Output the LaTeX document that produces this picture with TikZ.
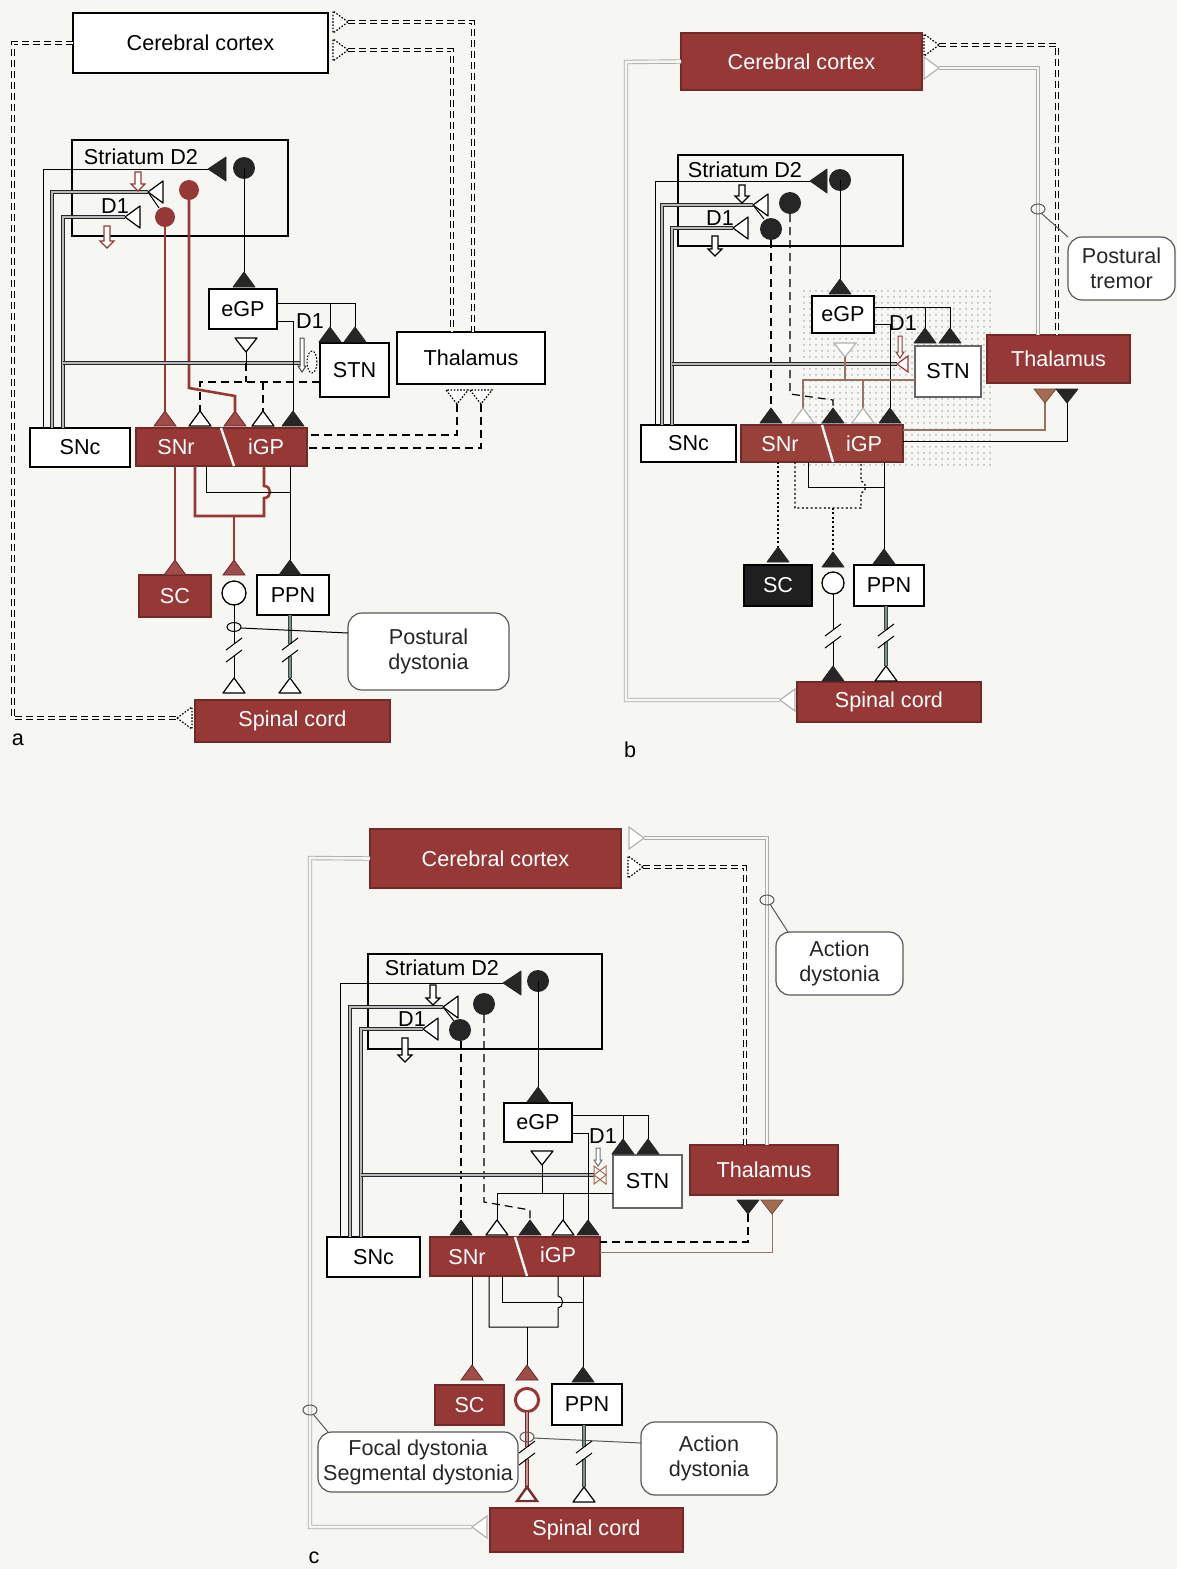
\documentclass[tikz,border=0pt]{standalone}
\usepackage{fontspec}
\setmainfont{Liberation Sans}
\usetikzlibrary{patterns}
\definecolor{brick}{RGB}{150,56,54}
\definecolor{brn}{RGB}{165,108,82}
\definecolor{bg}{RGB}{246,246,243}
\definecolor{tealc}{RGB}{120,150,140}
\newcommand\labfont{\fontsize{10.8}{12.6}\selectfont}
\newcommand\bx[7]{\node[#6, minimum width={(#4-#2)*0.5pt}, minimum height={(#5-#3)*0.5pt}] (#1) at ({(#2+#4)/2},{(#3+#5)/2}) {#7};}
\newcommand\synU[3]{\draw[#1] (#2,#3) -- ++(-11,15) -- ++(22,0) -- cycle;}
\newcommand\synD[3]{\draw[#1] (#2,#3) -- ++(-11,-14) -- ++(22,0) -- cycle;}
\newcommand\synL[3]{\draw[#1] (#2,#3) -- ++(15,-11) -- ++(0,22) -- cycle;}
\newcommand\synR[3]{\draw[#1] (#2,#3) -- ++(-15,-11) -- ++(0,22) -- cycle;}
\newcommand\barr[4]{\draw[#4, fill=white, line width=0.6pt, line join=miter] (#1-3,#2) -- (#1+3,#2) -- (#1+3,#3-7) -- (#1+7,#3-7) -- (#1,#3) -- (#1-7,#3-7) -- (#1-3,#3-7) -- cycle;}
\newcommand\narr[4]{\draw[#4, fill=white, line width=0.5pt] (#1-2,#2) -- (#1+2,#2) -- (#1+2,#3-6) -- (#1+4,#3-6) -- (#1,#3) -- (#1-4,#3-6) -- (#1-2,#3-6) -- cycle;}
\newcommand\brk[2]{\draw[tln] (#1-8,#2) -- (#1+8,#2-12) (#1-8,#2+12) -- (#1+8,#2);}
\tikzset{
 pbox/.style={draw=black, line width=1.1pt, fill=white, inner sep=0pt, outer sep=0pt},
 rbox/.style={draw=brick!75!black, line width=0.6pt, fill=brick, text=white, inner sep=0pt, outer sep=0pt},
 kbox/.style={draw=black, line width=0.6pt, fill=black!88, text=white, inner sep=0pt, outer sep=0pt},
 cbox/.style={draw=black!65, line width=0.6pt, rounded corners=7pt, fill=white, align=center, inner sep=0pt, outer sep=0pt, text=black!85},
 ln/.style={draw=black, line width=0.65pt},
 tln/.style={draw=black, line width=0.5pt},
 dln/.style={draw=black, line width=0.6pt, dash pattern=on 4pt off 2.5pt},
 dotln/.style={draw=black, line width=0.6pt, dash pattern=on 1pt off 1.2pt},
 rln/.style={draw=brick, line width=1.3pt},
 dbl/.style={draw=black!85, line width=0.55pt, double=gray!55, double distance=0.9pt},
 cdash/.style={draw=black, line width=0.5pt, double=bg, double distance=1.4pt, dash pattern=on 3.5pt off 2pt},
 gdbl/.style={draw=gray!65, line width=0.45pt, double=bg, double distance=1.3pt},
 tdbl/.style={draw=black!75, line width=0.45pt, double=tealc, double distance=0.8pt},
 rdbl/.style={draw=brick!75!black, line width=0.6pt, double=brick!55, double distance=0.8pt},
 brl/.style={draw=brn!65!gray, line width=0.55pt},
 fsyn/.style={fill=black!85, draw=black!85, line width=0.4pt, line join=round},
 osyn/.style={fill=white, draw=black, line width=0.6pt, line join=round},
 rsyn/.style={fill=brick!90, draw=brick!70!black, line width=0.4pt},
 dsyn/.style={fill=white, draw=black, line width=0.6pt, dash pattern=on 0.8pt off 0.8pt},
 gsyn/.style={fill=white, draw=gray!60, line width=0.6pt},
 bsyn/.style={fill=brn, draw=brn!70!black, line width=0.4pt},
}
\begin{document}
\begin{tikzpicture}[x=0.5pt, y=-0.5pt, every node/.style={font=\labfont}]
\useasboundingbox (0,0) rectangle (1177,1569);
\fill[bg] (0,0) rectangle (1177,1569);

%%%%%%%%%%%%%%%%%%%%%%%%%%%%%% PANEL A
\bx{ctxA}{73}{13}{328}{73}{pbox}{Cerebral cortex}
\bx{strA}{72}{140}{288}{236}{pbox,fill=none}{}
\node (strAl) at (141,157) {Striatum D2};
\node (d1A) at (115,206) {D1};
\bx{egpA}{209}{289}{277}{329}{pbox}{eGP}
\bx{stnA}{320}{343}{389}{397}{pbox}{STN}
\bx{thA}{397}{332}{545}{384}{pbox}{Thalamus}
\bx{sncA}{30}{428}{130}{467}{pbox}{SNc}
\bx{snrA}{136}{428}{307}{466}{rbox}{}
\draw[bg, line width=1.2pt] (221,428) -- (234,466);
\node[text=white] (snrAl) at (176,447) {SNr};
\node[text=white] (igpAl) at (266,447) {iGP};
\bx{scA}{139}{575}{211}{617}{rbox}{SC}
\bx{ppnA}{257}{575}{329}{615}{pbox}{PPN}
\bx{spA}{195}{700}{390}{742}{rbox}{Spinal cord}
\bx{calA}{348}{613}{509}{690}{cbox}{Postural\\dystonia}
\node (labA) at (18,740) {a};

\draw[cdash] (ctxA.west) -- (13,43) -- (13,718) -- (177,718);
\synL{dsyn}{177}{718}
\draw[cdash] (348,22) -- (473,22) -- (473,332);
\synR{dsyn}{348}{22}
\draw[cdash] (348,50) -- (452,50) -- (452,332);
\synR{dsyn}{348}{50}
\draw[dln] (457,404) -- (457,435) -- (307,435);
\draw[dln] (481,404) -- (481,448) -- (307,448);
\synD{dsyn}{457}{404}
\synD{dsyn}{481}{404}

\draw[tln] (43,428) -- (43,169) -- (208,169);
\draw[fsyn] (208,169) -- ++(18,-12) -- ++(0,24) -- cycle;
\fill[black!85] (244,168) circle[radius=5.5pt];
\draw[tln] (244,168) -- (244,272);
\synU{fsyn}{244}{272}
\draw[dbl] (52,428) -- (52,192) -- (148,192);
\synL{osyn}{148}{192}
\draw[tln] (148,192) -- (159,208);
\draw[dbl] (63,428) -- (63,217) -- (125,217);
\synL{osyn}{125}{217}
\fill[brick] (165,217) circle[radius=5pt];
\fill[brick] (189,190) circle[radius=5pt];
\barr{138}{172}{191}{brick}
\barr{107}{226}{248}{brick}
\draw[rln] (165,222) -- (165,411);
\synU{rsyn}{165}{411}
\draw[rln] (189,195) -- (189,388) -- (235,396) -- (235,411);
\synU{rsyn}{235}{411}
\draw[dbl] (63,363) -- (300,363);
\narr{302}{338}{372}{black!70}
\draw[black, line width=0.5pt, dash pattern=on 0.8pt off 0.8pt] (312,362) ellipse[x radius=2.5pt, y radius=5.5pt];
\node (d1As) at (310,321) {D1};
\draw[tln] (277,303) -- (355,303) (330,303) -- (330,327) (355,303) -- (355,327);
\synU{fsyn}{330}{327}
\synU{fsyn}{355}{327}
\draw[tln] (277,321) -- (293,321) -- (293,411);
\synU{fsyn}{293}{411}
\synD{osyn}{246}{352}
\draw[tln] (246,352) -- (246,363);
\draw[dln] (320,382) -- (200,382) -- (200,411);
\draw[dln] (263,382) -- (263,411);
\draw[dln] (246,363) -- (246,382);
\synU{osyn}{200}{411}
\synU{osyn}{263}{411}

\draw[rln] (175,466) -- (175,560);
\synU{rsyn}{175}{560}
\draw[rln] (195,466) -- (195,516) -- (264,516) -- (264,498) .. controls (272,498) and (272,486) .. (264,486) -- (264,466);
\draw[rln] (234,516) -- (234,560);
\synU{rsyn}{234}{560}
\draw[tln] (206,466) -- (206,492) -- (290,492);
\draw[tln] (290,466) -- (290,560);
\synU{fsyn}{290}{560}
\draw[ln, fill=white] (234,593) circle[radius=6pt];
\draw[tln] (234,605) -- (234,644) (234,656) -- (234,678);
\brk{234}{650}
\synU{osyn}{234}{678}
\draw[tdbl] (290,615) -- (290,644) (290,656) -- (290,678);
\brk{290}{650}
\synU{osyn}{290}{678}
\draw[tln] (234,627) ellipse[x radius=3.5pt, y radius=2.2pt];
\draw[tln] (241,628) -- (348,633);

%%%%%%%%%%%%%%%%%%%%%%%%%%%%%% PANEL B
\fill[pattern=dots, pattern color=gray!55] (800,290) rectangle (995,466);
\bx{ctxB}{681}{33}{922}{90}{rbox}{Cerebral cortex}
\bx{strB}{678}{155}{903}{246}{pbox,fill=none}{}
\node (strBl) at (745,170) {Striatum D2};
\node (d1B) at (720,218) {D1};
\bx{egpB}{812}{296}{874}{333}{pbox}{eGP}
\bx{stnB}{915}{346}{981}{397}{pbox,draw=black!60,line width=0.7pt}{STN}
\bx{thB}{987}{335}{1130}{383}{rbox}{Thalamus}
\bx{sncB}{641}{425}{736}{462}{pbox}{SNc}
\bx{snrB}{741}{425}{903}{462}{rbox,fill=brick!85!brn}{}
\draw[bg, line width=1.2pt] (822,425) -- (833,462);
\node[text=white] (snrBl) at (780,444) {SNr};
\node[text=white] (igpBl) at (864,444) {iGP};
\bx{scB}{744}{565}{812}{606}{kbox}{SC}
\bx{ppnB}{854}{565}{924}{606}{pbox}{PPN}
\bx{spB}{797}{682}{981}{722}{rbox}{Spinal cord}
\bx{calB}{1068}{237}{1175}{300}{cbox}{Postural\\tremor}
\node (labB) at (630,750) {b};

\draw[gdbl] (ctxB.west) -- (626,62) -- (626,700) -- (780,700);
\synL{gsyn}{780}{700}
\draw[cdash] (939,45) -- (1057,45) -- (1057,335);
\synR{dsyn}{939}{45}
\draw[gdbl] (939,68) -- (1038,68) -- (1038,335);
\synR{gsyn}{939}{68}
\draw[black!65, line width=0.5pt] (1038,209) ellipse[x radius=3.5pt, y radius=2.5pt];
\draw[black!65, line width=0.5pt] (1041,213) -- (calB.north west);

\draw[tln] (655,425) -- (655,181) -- (810,181);
\draw[fsyn] (810,181) -- ++(17,-12) -- ++(0,24) -- cycle;
\fill[black!85] (840,180) circle[radius=5.5pt];
\draw[tln] (840,180) -- (840,279);
\synU{fsyn}{840}{279}
\draw[dbl] (662,425) -- (662,205) -- (753,205);
\synL{osyn}{753}{205}
\draw[tln] (753,205) -- (764,219);
\draw[dbl] (672,425) -- (672,228) -- (733,228);
\synL{osyn}{733}{228}
\fill[black!85] (771,229) circle[radius=5.5pt];
\fill[black!85] (790,203) circle[radius=5.5pt];
\barr{742}{185}{203}{black}
\barr{715}{236}{256}{black}
\draw[dln] (771,240) -- (771,408);
\synU{fsyn}{771}{408}
\draw[dln] (790,214) -- (790,394) -- (833,400) -- (833,408);
\synU{fsyn}{833}{408}
\draw[dbl] (672,364) -- (897,364);
\draw[brick, fill=white, line width=0.6pt] (897,364) -- ++(11,-8) -- ++(0,16) -- cycle;
\narr{900}{336}{358}{brick}
\node (d1Bs) at (903,323) {D1};
\draw[tln] (874,307) -- (950,307) (925,307) -- (925,328) (950,307) -- (950,328);
\synU{fsyn}{925}{328}
\synU{fsyn}{950}{328}
\draw[tln] (874,324) -- (890,324) -- (890,408);
\synU{fsyn}{890}{408}
\synD{gsyn}{845}{357}
\draw[brl] (915,380) -- (803,380) -- (803,408);
\draw[brl] (863,380) -- (863,408);
\draw[brl] (845,380) -- (845,357);
\synU{gsyn}{803}{408}
\synU{gsyn}{863}{408}
\draw[brl, line width=0.6pt] (1045,403) -- (1045,430) -- (903,430);
\synD{bsyn}{1045}{403}
\draw[tln] (1067,403) -- (1067,441) -- (903,441);
\synD{fsyn}{1067}{403}

\draw[dotln] (778,462) -- (778,547);
\synU{fsyn}{778}{547}
\draw[dotln] (795,462) -- (795,508) -- (861,508) -- (861,493) .. controls (867,493) and (867,481) .. (861,481) -- (861,462);
\draw[dotln] (833,508) -- (833,552);
\synU{fsyn}{833}{552}
\draw[tln] (808,462) -- (808,487) -- (884,487);
\draw[tln] (884,462) -- (884,549);
\synU{fsyn}{884}{549}
\draw[ln, fill=white] (833,583) circle[radius=5.5pt];
\draw[tln] (833,594) -- (833,630) (833,642) -- (833,666);
\brk{833}{636}
\synU{fsyn}{833}{666}
\draw[tdbl] (886,606) -- (886,630) (886,642) -- (886,666);
\brk{886}{636}
\synU{osyn}{886}{666}

%%%%%%%%%%%%%%%%%%%%%%%%%%%%%% PANEL C
\bx{ctxC}{370}{829}{621}{888}{rbox}{Cerebral cortex}
\bx{strC}{368}{954}{602}{1049}{pbox,fill=none}{}
\node (strCl) at (442,968) {Striatum D2};
\node (d1C) at (412,1019) {D1};
\bx{egpC}{504}{1103}{572}{1142}{pbox}{eGP}
\bx{stnC}{613}{1155}{682}{1208}{pbox,draw=black!60,line width=0.7pt}{STN}
\bx{thC}{690}{1145}{838}{1195}{rbox}{Thalamus}
\bx{sncC}{327}{1237}{420}{1277}{pbox}{SNc}
\bx{snrC}{430}{1237}{600}{1276}{rbox}{}
\draw[bg, line width=1.2pt] (515,1237) -- (527,1276);
\node[text=white] (snrCl) at (467,1257) {SNr};
\node[text=white] (igpCl) at (558,1255) {iGP};
\bx{scC}{435}{1385}{504}{1425}{rbox}{SC}
\bx{ppnC}{552}{1384}{622}{1425}{pbox}{PPN}
\bx{spC}{490}{1508}{683}{1552}{rbox}{Spinal cord}
\bx{calC1}{776}{932}{903}{995}{cbox}{Action\\dystonia}
\bx{calC2}{641}{1422}{777}{1495}{cbox}{Action\\dystonia}
\bx{calC3}{318}{1432}{518}{1492}{cbox}{Focal dystonia\\Segmental dystonia}
\node (labC) at (314,1558) {c};

\draw[gdbl] (ctxC.west) -- (310,858) -- (310,1527) -- (472,1527);
\synL{gsyn}{472}{1527}
\draw[black!65, line width=0.5pt] (310,1410) ellipse[x radius=3.5pt, y radius=2.5pt];
\draw[black!65, line width=0.5pt] (313,1414) -- (328,1432);
\draw[gdbl] (644,838) -- (767,838) -- (767,1145);
\synR{gsyn}{644}{838}
\draw[black!65, line width=0.5pt] (767,900) ellipse[x radius=3.5pt, y radius=2.5pt];
\draw[black!65, line width=0.5pt] (770,904) -- (788,932);
\draw[cdash] (643,867) -- (745,867) -- (745,1145);
\synR{dsyn}{643}{867}

\draw[tln] (340,1237) -- (340,983) -- (503,983);
\draw[fsyn] (503,983) -- ++(18,-12) -- ++(0,24) -- cycle;
\fill[black!85] (538,981) circle[radius=5.5pt];
\draw[tln] (538,981) -- (538,1087);
\synU{fsyn}{538}{1087}
\draw[dbl] (350,1237) -- (350,1007) -- (443,1007);
\synL{osyn}{443}{1007}
\draw[tln] (443,1007) -- (454,1021);
\draw[dbl] (361,1237) -- (361,1029) -- (423,1029);
\synL{osyn}{423}{1029}
\fill[black!85] (460,1030) circle[radius=5.5pt];
\fill[black!85] (484,1004) circle[radius=5.5pt];
\barr{433}{985}{1005}{black}
\barr{405}{1038}{1062}{black}
\draw[dln] (461,1041) -- (461,1220);
\synU{fsyn}{461}{1220}
\draw[dln] (484,1015) -- (484,1202) -- (530,1210) -- (530,1220);
\synU{fsyn}{530}{1220}
\draw[dbl] (361,1175) -- (594,1175);
\draw[brn, fill=white, line width=0.5pt] (594,1175) -- (606,1166) -- (606,1184) -- cycle;
\draw[brn, line width=0.5pt] (606,1175) -- (594,1166) -- (594,1184) -- cycle;
\narr{598}{1148}{1166}{black!55}
\node (d1Cs) at (603,1136) {D1};
\draw[tln] (572,1115) -- (648,1115) (623,1115) -- (623,1139) (648,1115) -- (648,1139);
\synU{fsyn}{623}{1139}
\synU{fsyn}{648}{1139}
\draw[tln] (572,1133) -- (588,1133) -- (588,1220);
\synU{fsyn}{588}{1220}
\synD{osyn}{542}{1165}
\draw[tln] (613,1193) -- (497,1193) -- (497,1220);
\draw[tln] (563,1193) -- (563,1220);
\draw[tln] (542,1193) -- (542,1165);
\synU{osyn}{497}{1220}
\synU{osyn}{563}{1220}
\draw[dln] (748,1214) -- (748,1242) -- (600,1242);
\synD{fsyn}{748}{1214}
\draw[tln, draw=gray!50!brn] (772,1214) -- (772,1252) -- (600,1252);
\synD{bsyn}{772}{1214}

\draw[tln] (472,1276) -- (472,1365);
\synU{rsyn}{472}{1365}
\draw[tln] (489,1276) -- (489,1327) -- (558,1327) -- (558,1308) .. controls (564,1308) and (564,1296) .. (558,1296) -- (558,1276);
\draw[tln] (527,1327) -- (527,1365);
\synU{rsyn}{527}{1365}
\draw[tln] (502,1276) -- (502,1302) -- (583,1302);
\draw[tln] (583,1276) -- (583,1367);
\synU{fsyn}{583}{1367}
\draw[brick, line width=1.5pt, fill=white] (527,1400) circle[radius=5.8pt];
\draw[rdbl] (527,1412) -- (527,1447) (527,1459) -- (527,1487);
\brk{527}{1453}
\draw[brick!80!black, line width=1.2pt, fill=white] (527,1487) -- ++(-10,14) -- ++(20,0) -- cycle;
\draw[tdbl] (584,1425) -- (584,1447) (584,1459) -- (584,1487);
\brk{584}{1453}
\synU{osyn}{584}{1487}
\draw[black!65, line width=0.5pt] (527,1437) ellipse[x radius=3.5pt, y radius=2.5pt];
\draw[black!65, line width=0.5pt] (533,1438) -- (641,1443);
\end{tikzpicture}
\end{document}
